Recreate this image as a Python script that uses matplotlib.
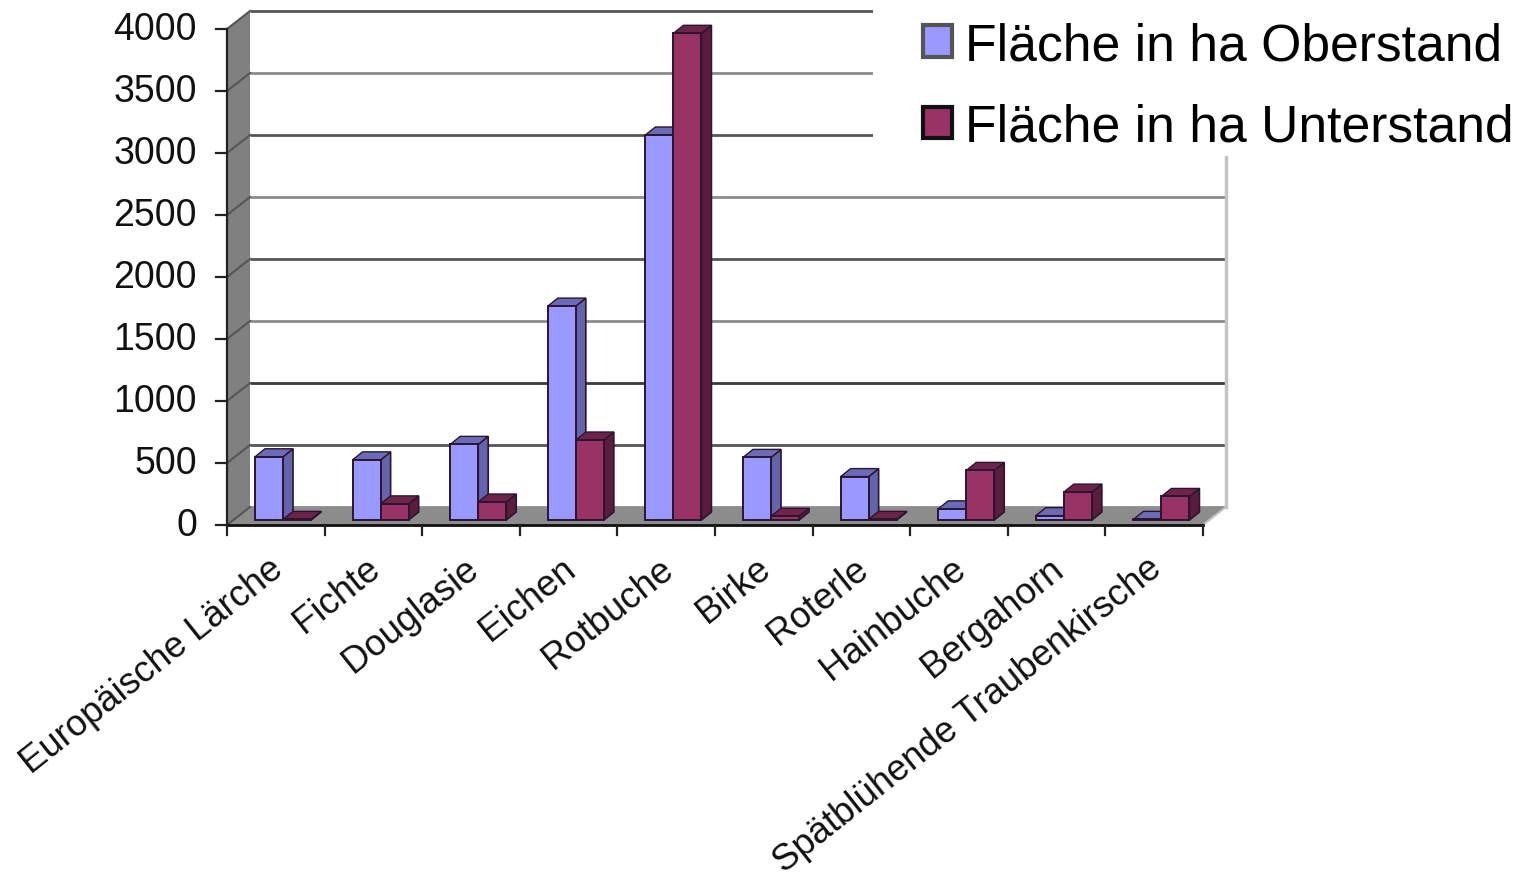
import matplotlib
matplotlib.use("Agg")
import matplotlib.pyplot as plt
from matplotlib.patches import Patch, Rectangle

plt.rcParams['font.family'] = ['Liberation Sans', 'DejaVu Sans']

# --- DATA ---
categories = ["Europäische Lärche", "Fichte", "Douglasie", "Eichen", "Rotbuche", "Birke",
              "Roterle", "Hainbuche", "Bergahorn", "Spätblühende Traubenkirsche"]
oberstand = [510, 485, 610, 1725, 3105, 505, 350, 90, 35, 5]
unterstand = [5, 130, 145, 645, 3925, 30, 5, 400, 225, 190]
y_ticks = [0, 500, 1000, 1500, 2000, 2500, 3000, 3500, 4000]
grid_colors = ['#8c8c8c', '#555555', '#3a3a3a', '#8c8c8c', '#555555', '#8c8c8c', '#555555', '#8c8c8c', '#555555']

# --- CONFIGURATION ---
W, H = 1518, 879
X0_PX, X_SCALE = 227, 97.6   # px of category 0, px per category
Y0_PX, Y_SCALE = 526, 0.124  # px of value 0, px per unit
WALL_DX, WALL_DY = 23 / X_SCALE, 18 / Y_SCALE
BAR_DX, BAR_DY = 10 / X_SCALE, 8 / Y_SCALE
BAR_LIFT = 5 / Y_SCALE
BAR_W = 0.287
BAR_GAP = 0.287
n = len(categories)

fig = plt.figure(figsize=(W / 100, H / 100), dpi=100)
ax = fig.add_axes([0, 0, 1, 1])
ax.set_xlim(-X0_PX / X_SCALE, (W - X0_PX) / X_SCALE)
ax.set_ylim(-(H - Y0_PX) / Y_SCALE, Y0_PX / Y_SCALE)
ax.axis('off')

top = max(y_ticks)

# Walls and floor
ax.fill([0, WALL_DX, WALL_DX, 0], [0, WALL_DY, top + WALL_DY, top], color='#808080', lw=0, zorder=1)
ax.fill([0, WALL_DX, n + WALL_DX, n], [0, WALL_DY, WALL_DY, 0], color='#8c8c8c', lw=0, zorder=1)

# Gridlines on back wall and left wall
for v, c in zip(y_ticks, grid_colors):
    ax.plot([WALL_DX, n + WALL_DX], [v + WALL_DY, v + WALL_DY], color=c, lw=2, zorder=2,
            solid_capstyle='butt')
    ax.plot([0, WALL_DX], [v, v + WALL_DY], color='#555555', lw=1.5, zorder=2)
ax.plot([n + WALL_DX, n + WALL_DX], [WALL_DY, top + WALL_DY], color='#c4c4c4', lw=2.5, zorder=2)
ax.plot([n, n + WALL_DX], [0, WALL_DY], color='#c4c4c4', lw=1.5, zorder=2)


def draw_bar(x, value, front, shade, side, z):
    y0 = BAR_LIFT
    y1 = value + BAR_LIFT
    edge = '#2b1530'
    ax.fill([x + BAR_W, x + BAR_W + BAR_DX, x + BAR_W + BAR_DX, x + BAR_W],
            [y0, y0 + BAR_DY, y1 + BAR_DY, y1], facecolor=side, edgecolor=edge, lw=1.2, zorder=z)
    ax.fill([x, x + BAR_DX, x + BAR_W + BAR_DX, x + BAR_W],
            [y1, y1 + BAR_DY, y1 + BAR_DY, y1], facecolor=shade, edgecolor=edge, lw=1.0, zorder=z)
    ax.fill([x, x + BAR_W, x + BAR_W, x], [y0, y0, y1, y1],
            facecolor=front, edgecolor=edge, lw=1.4, zorder=z + 0.1)


for i in range(n):
    draw_bar(i + BAR_GAP, oberstand[i], '#9999ff', '#6b6bb8', '#6464ac', 3 + i * 0.1)
    draw_bar(i + BAR_GAP + BAR_W, unterstand[i], '#993366', '#6e2449', '#5c1d3c', 3.05 + i * 0.1)

# Axes lines and ticks
tick_y = 10 / Y_SCALE
tick_x = 11 / X_SCALE
ax.plot([0, 0], [0, top], color='#222222', lw=1.6, zorder=6)
ax.plot([0, n], [0, 0], color='#111111', lw=2, zorder=6)
for i in range(n + 1):
    ax.plot([i, i], [0, -tick_y], color='#222222', lw=1.6, zorder=6)
for v in y_ticks:
    ax.plot([-tick_x, 0], [v, v], color='#222222', lw=1.6, zorder=6)
    ax.text(-30 / X_SCALE, v, str(v), ha='right', va='center', fontsize=27, color='#111111')

# Category labels
for i, name in enumerate(categories):
    ax.text(i + 0.53, -39 / Y_SCALE, name, rotation=38.5, rotation_mode='anchor', ha='right', va='center',
            fontsize=26.3, color='#111111')

# Legend sits on a white panel that hides the top right of the wall
fig.add_artist(Rectangle((873 / W, 1 - 157 / H), 645 / W, 149 / H, transform=fig.transFigure,
                         facecolor='white', edgecolor='none', zorder=7))
handles = [Patch(facecolor='#9999ff', edgecolor='#555555', lw=3),
           Patch(facecolor='#993366', edgecolor='#111111', lw=3)]
leg = fig.legend(handles, ["Fläche in ha Oberstand", "Fläche in ha Unterstand"],
                 loc='upper left', bbox_to_anchor=(913 / W, 1 - 12 / H), frameon=False, fontsize=37.2,
                 handlelength=0.56, handleheight=0.56, handletextpad=0.24, labelspacing=0.63,
                 borderpad=0.2, borderaxespad=0)
leg.set_zorder(8)

fig.savefig("out.png", dpi=100)
